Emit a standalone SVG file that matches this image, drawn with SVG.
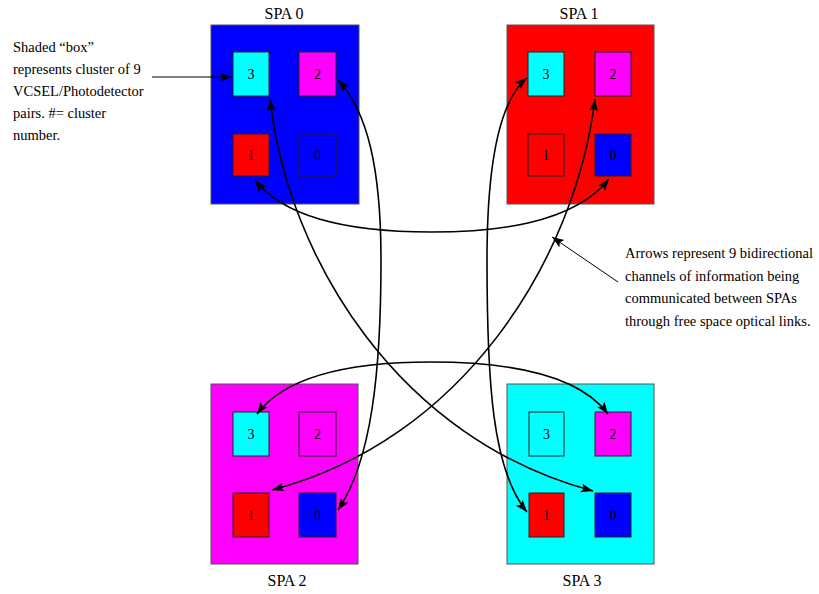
<svg xmlns="http://www.w3.org/2000/svg" width="819" height="594" viewBox="0 0 819 594">
<style>
text{font-family:"Liberation Serif","Times New Roman",serif;fill:#000}
.lbl{font-size:16px;text-anchor:middle}
.num{font-size:14px;text-anchor:middle}
.note{font-size:14.5px}
.spa{stroke:#555;stroke-width:1}
.cl{stroke:#222;stroke-width:1}
.link{fill:none;stroke:#000;stroke-width:1.6;marker-start:url(#ah);marker-end:url(#ah)}
.ptr{fill:none;stroke:#000;stroke-width:1;marker-end:url(#ah)}
</style>
<defs>
<marker id="ah" markerUnits="userSpaceOnUse" markerWidth="14" markerHeight="10" refX="12" refY="4.5" orient="auto-start-reverse">
<path d="M0,0 L12,4.5 L0,9 L2.5,4.5 z" fill="#000"/>
</marker>
</defs>
<rect width="819" height="594" fill="#fff"/>

<g id="spa0">
<text class="lbl" x="284" y="19">SPA 0</text>
<rect class="spa" x="211" y="25" width="148" height="179" fill="#0000ff"/>
<rect class="cl" x="233" y="52" width="36" height="44" fill="#00ffff"/><text class="num" x="251" y="79">3</text>
<rect class="cl" x="299" y="52" width="37" height="44" fill="#ff00ff"/><text class="num" x="317.5" y="79">2</text>
<rect class="cl" x="233" y="134" width="36" height="42" fill="#ff0000"/><text class="num" x="251" y="160">1</text>
<rect class="cl" x="299" y="134" width="37" height="42" fill="#0000ff"/><text class="num" x="317.5" y="160">0</text>
</g>

<g id="spa1">
<text class="lbl" x="579" y="19">SPA 1</text>
<rect class="spa" x="507" y="25" width="147" height="179" fill="#ff0000"/>
<rect class="cl" x="528" y="52" width="36" height="44" fill="#00ffff"/><text class="num" x="546" y="79">3</text>
<rect class="cl" x="595" y="52" width="36" height="44" fill="#ff00ff"/><text class="num" x="613" y="79">2</text>
<rect class="cl" x="528" y="134" width="36" height="42" fill="#ff0000"/><text class="num" x="546" y="160">1</text>
<rect class="cl" x="595" y="134" width="36" height="42" fill="#0000ff"/><text class="num" x="613" y="160">0</text>
</g>

<g id="spa2">
<rect class="spa" x="211" y="384" width="147" height="180" fill="#ff00ff"/>
<rect class="cl" x="233" y="412" width="36" height="44" fill="#00ffff"/><text class="num" x="251" y="439">3</text>
<rect class="cl" x="299" y="412" width="37" height="44" fill="#ff00ff"/><text class="num" x="317.5" y="439">2</text>
<rect class="cl" x="233" y="493" width="36" height="44" fill="#ff0000"/><text class="num" x="251" y="520">1</text>
<rect class="cl" x="299" y="493" width="37" height="44" fill="#0000ff"/><text class="num" x="317.5" y="520">0</text>
<text class="lbl" x="287" y="586">SPA 2</text>
</g>

<g id="spa3">
<rect class="spa" x="507" y="384" width="147" height="180" fill="#00ffff"/>
<rect class="cl" x="529" y="412" width="35" height="44" fill="#00ffff"/><text class="num" x="546.5" y="439">3</text>
<rect class="cl" x="595" y="412" width="36" height="44" fill="#ff00ff"/><text class="num" x="613" y="439">2</text>
<rect class="cl" x="529" y="493" width="35" height="44" fill="#ff0000"/><text class="num" x="546.5" y="520">1</text>
<rect class="cl" x="595" y="493" width="36" height="44" fill="#0000ff"/><text class="num" x="613" y="520">0</text>
<text class="lbl" x="582" y="586">SPA 3</text>
</g>

<g id="note-left">
<text class="note" x="13" y="52">Shaded “box”</text>
<text class="note" x="13" y="74">represents cluster of 9</text>
<text class="note" x="13" y="96">VCSEL/Photodetector</text>
<text class="note" x="13" y="118">pairs. #= cluster</text>
<text class="note" x="13" y="140">number.</text>
</g>

<g id="note-right">
<text class="note" x="625" y="258">Arrows represent 9 bidirectional</text>
<text class="note" x="625" y="280.5">channels of information being</text>
<text class="note" x="625" y="303">communicated between SPAs</text>
<text class="note" x="625" y="325.5">through free space optical links.</text>
</g>

<g id="connectors">
<path class="link" d="M255,180 C290,225 370,232 431,232 C492,232 572,225 609,179"/>
<path class="link" d="M270,99 C288,260 400,440 593,491"/>
<path class="link" d="M595,99 C575,260 463,440 272,490"/>
<path class="link" d="M338,80 C368,112 381,170 381,260 C381,370 372,460 338,510"/>
<path class="link" d="M527,78 C500,100 487,160 487,260 C487,380 492,470 527,512"/>
<path class="link" d="M257,414 C290,370 370,362 431,362 C492,362 575,370 608,414"/>
<path class="ptr" d="M152,77 L232,77"/>
<path class="ptr" d="M618,282 L552,237"/>
</g>
</svg>
